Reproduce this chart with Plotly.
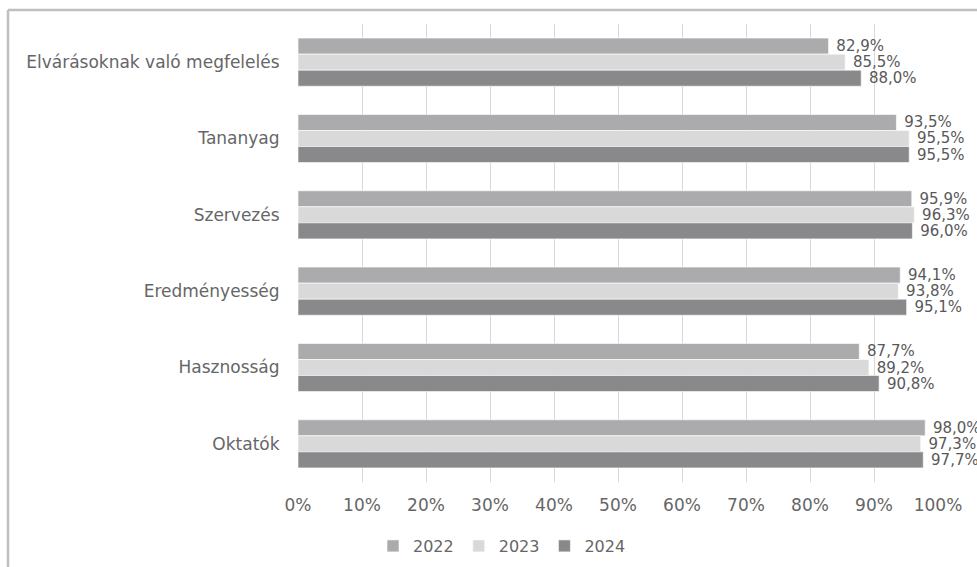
import plotly.graph_objects as go

categories = ["Elvárásoknak való megfelelés", "Tananyag", "Szervezés",
              "Eredményesség", "Hasznosság", "Oktatók"]
years = ["2022", "2023", "2024"]
values_2022 = [82.9, 93.5, 95.9, 94.1, 87.7, 98.0]
values_2023 = [85.5, 95.5, 96.3, 93.8, 89.2, 97.3]
values_2024 = [88.0, 95.5, 96.0, 95.1, 90.8, 97.7]
x_ticks = [0, 10, 20, 30, 40, 50, 60, 70, 80, 90, 100]
x_tick_labels = ["0%", "10%", "20%", "30%", "40%", "50%",
                 "60%", "70%", "80%", "90%", "100%"]

series = [values_2022, values_2023, values_2024]
colors = ["#ABABAD", "#D9D9D9", "#89898B"]

W, H = 977, 567
L, R, T, B = 298, 39, 24, 85
pw, ph = W - L - R, H - T - B

fig = go.Figure()
for name, vals, col in zip(years, series, colors):
    fig.add_trace(go.Bar(
        name=name, y=categories, x=vals, orientation="h",
        marker=dict(color=col, line=dict(color="white", width=0.6)),
        texttemplate="\u00a0%{x:.1f}%", textposition="outside",
        textfont=dict(family="DejaVu Sans", size=15, color="#595959"),
        cliponaxis=False, constraintext="none",
    ))

def px_x(p):
    return (p - L) / pw

def px_y(p):
    return (H - B - p) / ph

border = "#BFBFBF"
fig.add_shape(type="line", xref="paper", yref="paper",
              x0=px_x(8), x1=px_x(990), y0=px_y(10), y1=px_y(10),
              line=dict(color=border, width=2.5))
fig.add_shape(type="line", xref="paper", yref="paper",
              x0=px_x(8), x1=px_x(8), y0=px_y(10), y1=px_y(580),
              line=dict(color=border, width=2.5))

fig.update_layout(
    width=W, height=H,
    margin=dict(l=L, r=R, t=T, b=B, autoexpand=False),
    barmode="group", bargap=0.37, bargroupgap=0,
    plot_bgcolor="white", paper_bgcolor="white",
    separators=", ",
    font=dict(family="DejaVu Sans", color="#666666"),
    showlegend=True,
    legend=dict(orientation="h", x=px_x(502), xanchor="center",
                y=px_y(546), yanchor="middle",
                font=dict(size=16, color="#666666"),
                itemwidth=30, traceorder="normal"),
    xaxis=dict(range=[0, 100], tickmode="array", tickvals=x_ticks,
               ticktext=x_tick_labels,
               showgrid=True, gridcolor="#D9D9D9", gridwidth=1,
               zeroline=False, showline=False,
               ticks="outside", ticklen=8, tickcolor="rgba(0,0,0,0)",
               tickfont=dict(size=17, color="#666666")),
    yaxis=dict(autorange="reversed", showgrid=False, showline=False,
               ticks="outside", ticklen=14, tickcolor="rgba(0,0,0,0)",
               tickfont=dict(size=17, color="#666666")),
)

fig.write_html("out.html")
